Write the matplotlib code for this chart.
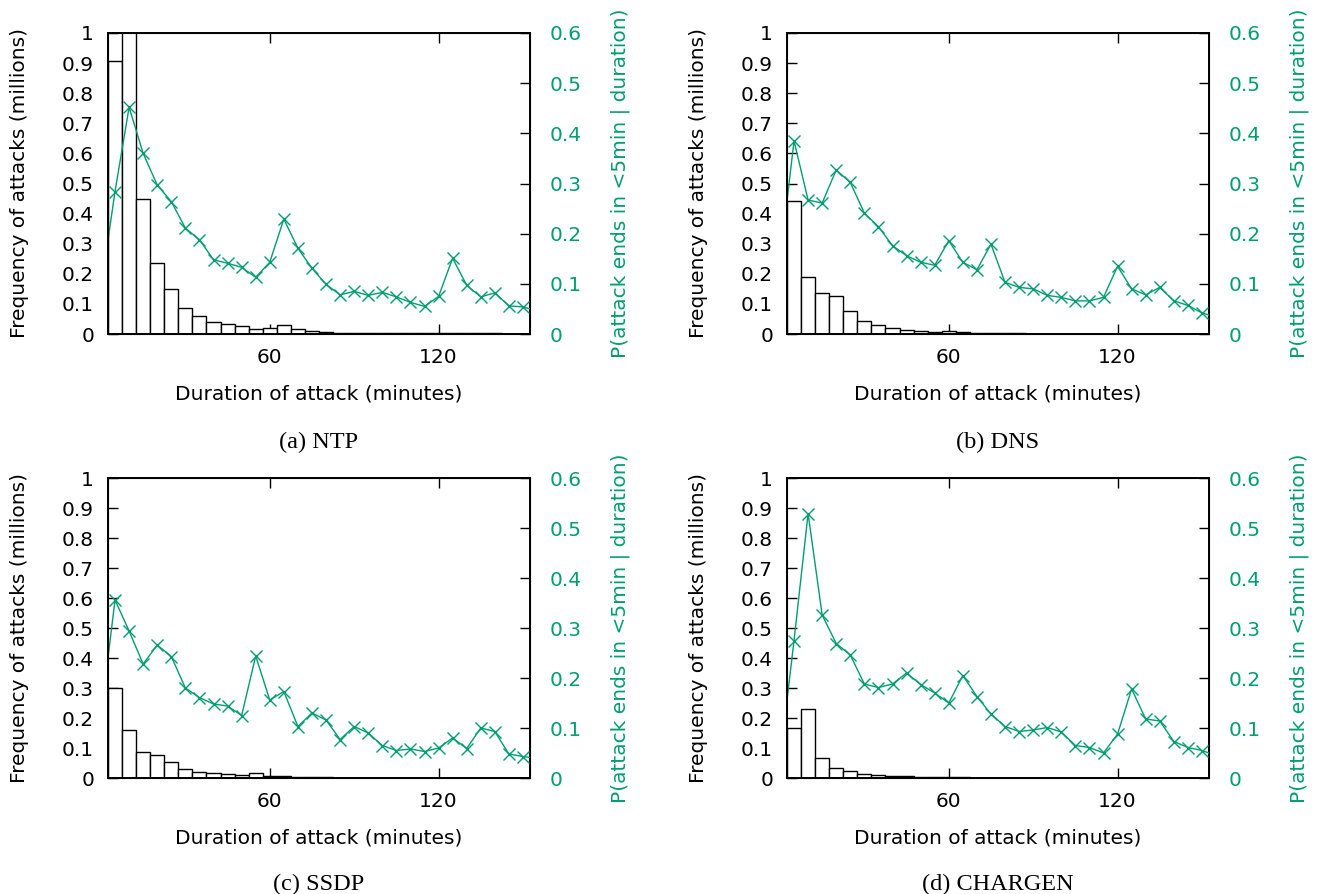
import matplotlib
matplotlib.use("Agg")
import matplotlib.pyplot as plt
import numpy as np
from matplotlib.ticker import FuncFormatter

GREEN = "#009E73"

# bin centers (minutes) for histogram bars
bar_x = [5, 10, 15, 20, 25, 30, 35, 40, 45, 50, 55, 60, 65, 70, 75,
         80, 85, 90, 95, 100, 105, 110, 115, 120, 125, 130, 135, 140, 145, 150]
# probability curve x positions (includes points just outside the visible range)
prob_x = [0, 5, 10, 15, 20, 25, 30, 35, 40, 45, 50, 55, 60, 65, 70, 75,
          80, 85, 90, 95, 100, 105, 110, 115, 120, 125, 130, 135, 140, 145, 150, 155]

ntp_freq = [0.907, 1.25, 0.449, 0.235, 0.149, 0.086, 0.061, 0.039, 0.032, 0.025,
            0.018, 0.020, 0.030, 0.017, 0.009, 0.006, 0.003, 0.002, 0.002, 0.002,
            0.002, 0.002, 0.002, 0.002, 0.003, 0.002, 0.002, 0.002, 0.001, 0.001]
ntp_prob = [0.091, 0.284, 0.452, 0.360, 0.297, 0.264, 0.211, 0.188, 0.148, 0.141,
            0.133, 0.113, 0.143, 0.229, 0.171, 0.131, 0.099, 0.078, 0.085, 0.077,
            0.083, 0.074, 0.063, 0.055, 0.075, 0.151, 0.097, 0.074, 0.082, 0.056,
            0.054, 0.046]

dns_freq = [0.442, 0.189, 0.136, 0.125, 0.078, 0.042, 0.029, 0.019, 0.013, 0.010,
            0.008, 0.010, 0.006, 0.003, 0.004, 0.002, 0.002, 0.001, 0.001, 0.001,
            0.001, 0.001, 0.001, 0.001, 0.001, 0.001, 0.001, 0.001, 0.001, 0.001]
dns_prob = [0.145, 0.385, 0.267, 0.261, 0.327, 0.302, 0.241, 0.214, 0.176, 0.156,
            0.143, 0.137, 0.186, 0.143, 0.128, 0.179, 0.103, 0.093, 0.090, 0.077,
            0.073, 0.066, 0.066, 0.073, 0.135, 0.090, 0.078, 0.093, 0.066, 0.057,
            0.042, 0.034]

ssdp_freq = [0.299, 0.159, 0.086, 0.078, 0.052, 0.029, 0.020, 0.016, 0.012, 0.009,
             0.017, 0.007, 0.006, 0.002, 0.002, 0.002, 0.001, 0.001, 0.001, 0.001,
             0.0005, 0.0005, 0.0005, 0.0005, 0.0005, 0.0005, 0.0005, 0.0005, 0.0005, 0.0005]
ssdp_prob = [0.126, 0.356, 0.294, 0.228, 0.266, 0.243, 0.180, 0.161, 0.148, 0.144,
             0.125, 0.244, 0.156, 0.173, 0.103, 0.130, 0.116, 0.077, 0.103, 0.090,
             0.065, 0.055, 0.058, 0.053, 0.060, 0.080, 0.059, 0.100, 0.093, 0.048,
             0.043, 0.039]

chargen_freq = [0.166, 0.231, 0.067, 0.035, 0.024, 0.013, 0.010, 0.008, 0.006, 0.003,
                0.002, 0.002, 0.002, 0.001, 0.001, 0.0005, 0.0005, 0.0005, 0.0005, 0.0005,
                0.0005, 0.0005, 0.0005, 0.0005, 0.0005, 0.0005, 0.0005, 0.0005, 0.0005, 0.0005]
chargen_prob = [0.037, 0.275, 0.529, 0.326, 0.269, 0.246, 0.188, 0.181, 0.188, 0.210,
                0.187, 0.170, 0.150, 0.205, 0.163, 0.128, 0.103, 0.093, 0.096, 0.101,
                0.092, 0.065, 0.061, 0.050, 0.088, 0.178, 0.118, 0.114, 0.073, 0.061,
                0.055, 0.045]

captions = ["(a) NTP", "(b) DNS", "(c) SSDP", "(d) CHARGEN"]
freqs = [ntp_freq, dns_freq, ssdp_freq, chargen_freq]
probs = [ntp_prob, dns_prob, ssdp_prob, chargen_prob]

left_yticks = [0, 0.1, 0.2, 0.3, 0.4, 0.5, 0.6, 0.7, 0.8, 0.9, 1]
right_yticks = [0, 0.1, 0.2, 0.3, 0.4, 0.5, 0.6]
x_ticks = [60, 120]

plt.rcParams['font.family'] = ['DejaVu Sans']
FS = 14.5

fig = plt.figure(figsize=(13.19, 8.94), dpi=100)

W, H = 1319.0, 894.0
boxes = [(108, 33, 530, 334), (787, 33, 1209, 334),
         (108, 478, 530, 778), (787, 478, 1209, 778)]
caption_y = [442, 442, 884, 884]

fmt = FuncFormatter(lambda v, p: "%g" % round(v, 2))

for i in range(4):
    x0, y0, x1, y1 = boxes[i]
    ax = fig.add_axes([x0 / W, 1 - y1 / H, (x1 - x0) / W, (y1 - y0) / H])
    ax.bar(bar_x, freqs[i], width=5, color="white", edgecolor="black",
           linewidth=1.0, zorder=2)
    ax.set_xlim(2.5, 152.5)
    ax.set_ylim(0, 1)
    ax.set_yticks(left_yticks)
    ax.yaxis.set_major_formatter(fmt)
    ax.set_xticks(x_ticks)
    ax.tick_params(axis='y', direction='in', length=7, width=1, labelsize=FS,
                   pad=10, right=False)
    ax.tick_params(axis='x', direction='in', length=7, width=1, labelsize=FS,
                   pad=10, top=True)
    for s in ax.spines.values():
        s.set_linewidth(1.4)
    ax.set_xlabel("Duration of attack (minutes)", fontsize=FS, labelpad=13)
    ax.set_ylabel("Frequency of attacks (millions)", fontsize=FS, labelpad=24)

    ax2 = ax.twinx()
    ax2.plot(prob_x, probs[i], color=GREEN, linewidth=1.0, marker='x',
             markersize=9, markeredgewidth=1.0, clip_on=True)
    ax2.set_ylim(0, 0.6)
    ax2.set_xlim(2.5, 152.5)
    ax2.set_yticks(right_yticks)
    ax2.yaxis.set_major_formatter(fmt)
    ax2.tick_params(axis='y', direction='in', length=7, width=1, labelsize=FS,
                    pad=14, labelcolor=GREEN, color='black')
    ax2.set_ylabel("P(attack ends in <5min | duration)", fontsize=FS,
                   color=GREEN, labelpad=21)

    cx = (x0 + x1) / 2.0
    fig.text(cx / W, 1 - caption_y[i] / H, captions[i], ha='center', va='center',
             fontsize=17.5, family='Liberation Serif')

fig.savefig("out.png", dpi=100)
